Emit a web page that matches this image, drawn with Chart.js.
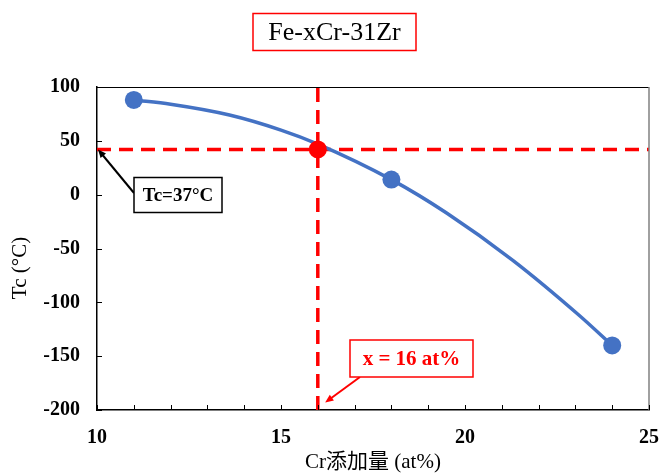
<!DOCTYPE html>
<html>
<head>
<meta charset="utf-8">
<script src="https://cdn.jsdelivr.net/npm/chart.js@4.4.0/dist/chart.umd.min.js"></script>
<style>
  body { margin: 0; background: #fff; }
  #wrap { width: 661px; height: 474px; }
</style>
</head>
<body>
<div id="wrap"><canvas id="tc-chart" width="661" height="474"></canvas></div>
<script>
// Data
// trend curve
var curveX = [11, 12, 13.6, 15, 16, 18, 19.5, 21.3, 23.1, 24];
var curveY = [88, 84, 74, 60, 47, 14, -17, -61, -112, -140];
// measured points
var pointX = [11, 18, 24];
var pointY = [88, 14, -140];
var crossX = 16;   // x = 16 at%
var crossY = 42;   // Tc line
var xTickLabels = [10, 15, 20, 25];
var yMin = -200, yMax = 100, yStep = 50;
var xMin = 10, xMax = 25;

var SERIF = '"Liberation Serif", "Times New Roman", "Noto Sans CJK JP", serif';
var BLUE = '#4472C4';
var RED = '#FF0000';

function toXY(xs, ys) {
    return xs.map(function(x, i) { return { x: x, y: ys[i] }; });
}

function arrow(ctx, x1, y1, x2, y2, color) {
    var ang = Math.atan2(y2 - y1, x2 - x1);
    var head = 9;
    ctx.save();
    ctx.strokeStyle = color;
    ctx.fillStyle = color;
    ctx.lineWidth = 2;
    ctx.beginPath();
    ctx.moveTo(x1, y1);
    ctx.lineTo(x2 - Math.cos(ang) * head * 0.8, y2 - Math.sin(ang) * head * 0.8);
    ctx.stroke();
    ctx.beginPath();
    ctx.moveTo(x2, y2);
    ctx.lineTo(x2 - head * Math.cos(ang - 0.4), y2 - head * Math.sin(ang - 0.4));
    ctx.lineTo(x2 - head * Math.cos(ang + 0.4), y2 - head * Math.sin(ang + 0.4));
    ctx.closePath();
    ctx.fill();
    ctx.restore();
}

function textBox(ctx, text, cx, cy, w, h, font, color, border) {
    ctx.save();
    ctx.fillStyle = '#fff';
    ctx.fillRect(cx - w / 2, cy - h / 2, w, h);
    ctx.strokeStyle = border;
    ctx.lineWidth = 1.5;
    ctx.strokeRect(cx - w / 2, cy - h / 2, w, h);
    ctx.font = font;
    ctx.fillStyle = color;
    ctx.textAlign = 'center';
    ctx.textBaseline = 'middle';
    ctx.fillText(text, cx, cy + 1);
    ctx.restore();
}

// inward ticks, frame, titles and callouts
var decorations = {
    id: 'decorations',
    afterDraw: function(chart) {
        var ctx = chart.ctx;
        var a = chart.chartArea;
        var xs = chart.scales.x, ys = chart.scales.y;

        ctx.save();
        // top and right frame
        ctx.strokeStyle = '#000';
        ctx.lineWidth = 1;
        ctx.beginPath();
        ctx.moveTo(a.left, a.top + 0.5);
        ctx.lineTo(a.right, a.top + 0.5);
        ctx.stroke();
        ctx.strokeStyle = '#808080';
        ctx.lineWidth = 1.5;
        ctx.beginPath();
        ctx.moveTo(a.right, a.top);
        ctx.lineTo(a.right, a.bottom);
        ctx.stroke();

        // inward tick marks
        ctx.strokeStyle = '#000';
        ctx.lineWidth = 1;
        xs.ticks.forEach(function(t) {
            var px = Math.round(xs.getPixelForValue(t.value)) + 0.5;
            ctx.beginPath();
            ctx.moveTo(px, a.bottom);
            ctx.lineTo(px, a.bottom - 5);
            ctx.stroke();
        });
        ys.ticks.forEach(function(t) {
            var py = Math.round(ys.getPixelForValue(t.value)) + 0.5;
            ctx.beginPath();
            ctx.moveTo(a.left, py);
            ctx.lineTo(a.left + 5, py);
            ctx.stroke();
        });

        // axis titles
        ctx.fillStyle = '#000';
        ctx.font = '21px ' + SERIF;
        ctx.textAlign = 'center';
        ctx.textBaseline = 'middle';
        ctx.fillText('Cr添加量 (at%)', (a.left + a.right) / 2, 462);
        ctx.save();
        ctx.translate(20, 268);
        ctx.rotate(-Math.PI / 2);
        ctx.fillText('Tc (°C)', 0, 0);
        ctx.restore();
        ctx.restore();

        // chart title
        textBox(ctx, 'Fe-xCr-31Zr', 334.5, 32, 163, 37, '26px ' + SERIF, '#000', RED);

        // Tc callout
        arrow(ctx, 134, 193, xs.getPixelForValue(xMin) + 1, ys.getPixelForValue(crossY), '#000');
        textBox(ctx, 'Tc=37°C', 178, 195, 88, 35, 'bold 19px ' + SERIF, '#000', '#000');

        // x callout
        arrow(ctx, 360, 377, xs.getPixelForValue(crossX + 0.2), ys.getPixelForValue(yMin + 7), RED);
        textBox(ctx, 'x = 16 at%', 411.5, 358.5, 123, 37, 'bold 21px ' + SERIF, RED, RED);
    }
};

var ctx = document.getElementById('tc-chart').getContext('2d');
var tcChart = new Chart(ctx, {
    type: 'scatter',
    data: {
        datasets: [
            {
                label: 'x = 16',
                data: [{ x: crossX, y: crossY }],
                pointRadius: 9,
                backgroundColor: RED,
                borderWidth: 0,
                order: 0
            },
            {
                label: 'points',
                data: toXY(pointX, pointY),
                pointRadius: 9,
                backgroundColor: BLUE,
                borderWidth: 0,
                order: 1
            },
            {
                label: 'fit',
                type: 'line',
                data: toXY(curveX, curveY),
                borderColor: BLUE,
                borderWidth: 3.5,
                pointRadius: 0,
                cubicInterpolationMode: 'monotone',
                fill: false,
                order: 2
            },
            {
                label: 'Tc line',
                type: 'line',
                data: [{ x: xMin, y: crossY }, { x: xMax, y: crossY }],
                borderColor: RED,
                borderWidth: 3.5,
                borderDash: [14, 8],
                pointRadius: 0,
                order: 3
            },
            {
                label: 'x line',
                type: 'line',
                data: [{ x: crossX, y: yMin }, { x: crossX, y: yMax }],
                borderColor: RED,
                borderWidth: 3.5,
                borderDash: [14, 8],
                pointRadius: 0,
                order: 3
            }
        ]
    },
    options: {
        responsive: false,
        animation: false,
        layout: { padding: { top: 87, right: 12, left: 0, bottom: 0 } },
        plugins: {
            legend: { display: false },
            tooltip: { enabled: false }
        },
        scales: {
            x: {
                type: 'linear',
                min: xMin,
                max: xMax,
                afterFit: function(s) { s.height = 64; s.paddingLeft = 0; s.paddingRight = 0; },
                grid: { display: true, drawOnChartArea: false, drawTicks: false },
                border: { color: '#000', width: 1.5 },
                ticks: {
                    stepSize: 1,
                    autoSkip: false,
                    maxRotation: 0,
                    padding: 16,
                    color: '#000',
                    font: { family: SERIF, size: 20, weight: 'bold' },
                    callback: function(v) { return xTickLabels.indexOf(v) >= 0 ? String(v) : ''; }
                }
            },
            y: {
                min: yMin,
                max: yMax,
                afterFit: function(s) { s.width = 97; s.paddingTop = 0; s.paddingBottom = 0; },
                grid: { display: true, drawOnChartArea: false, drawTicks: false },
                border: { color: '#000', width: 1.5 },
                ticks: {
                    stepSize: yStep,
                    padding: 17,
                    color: '#000',
                    font: { family: SERIF, size: 20, weight: 'bold' }
                }
            }
        }
    },
    plugins: [decorations]
});
</script>
</body>
</html>
